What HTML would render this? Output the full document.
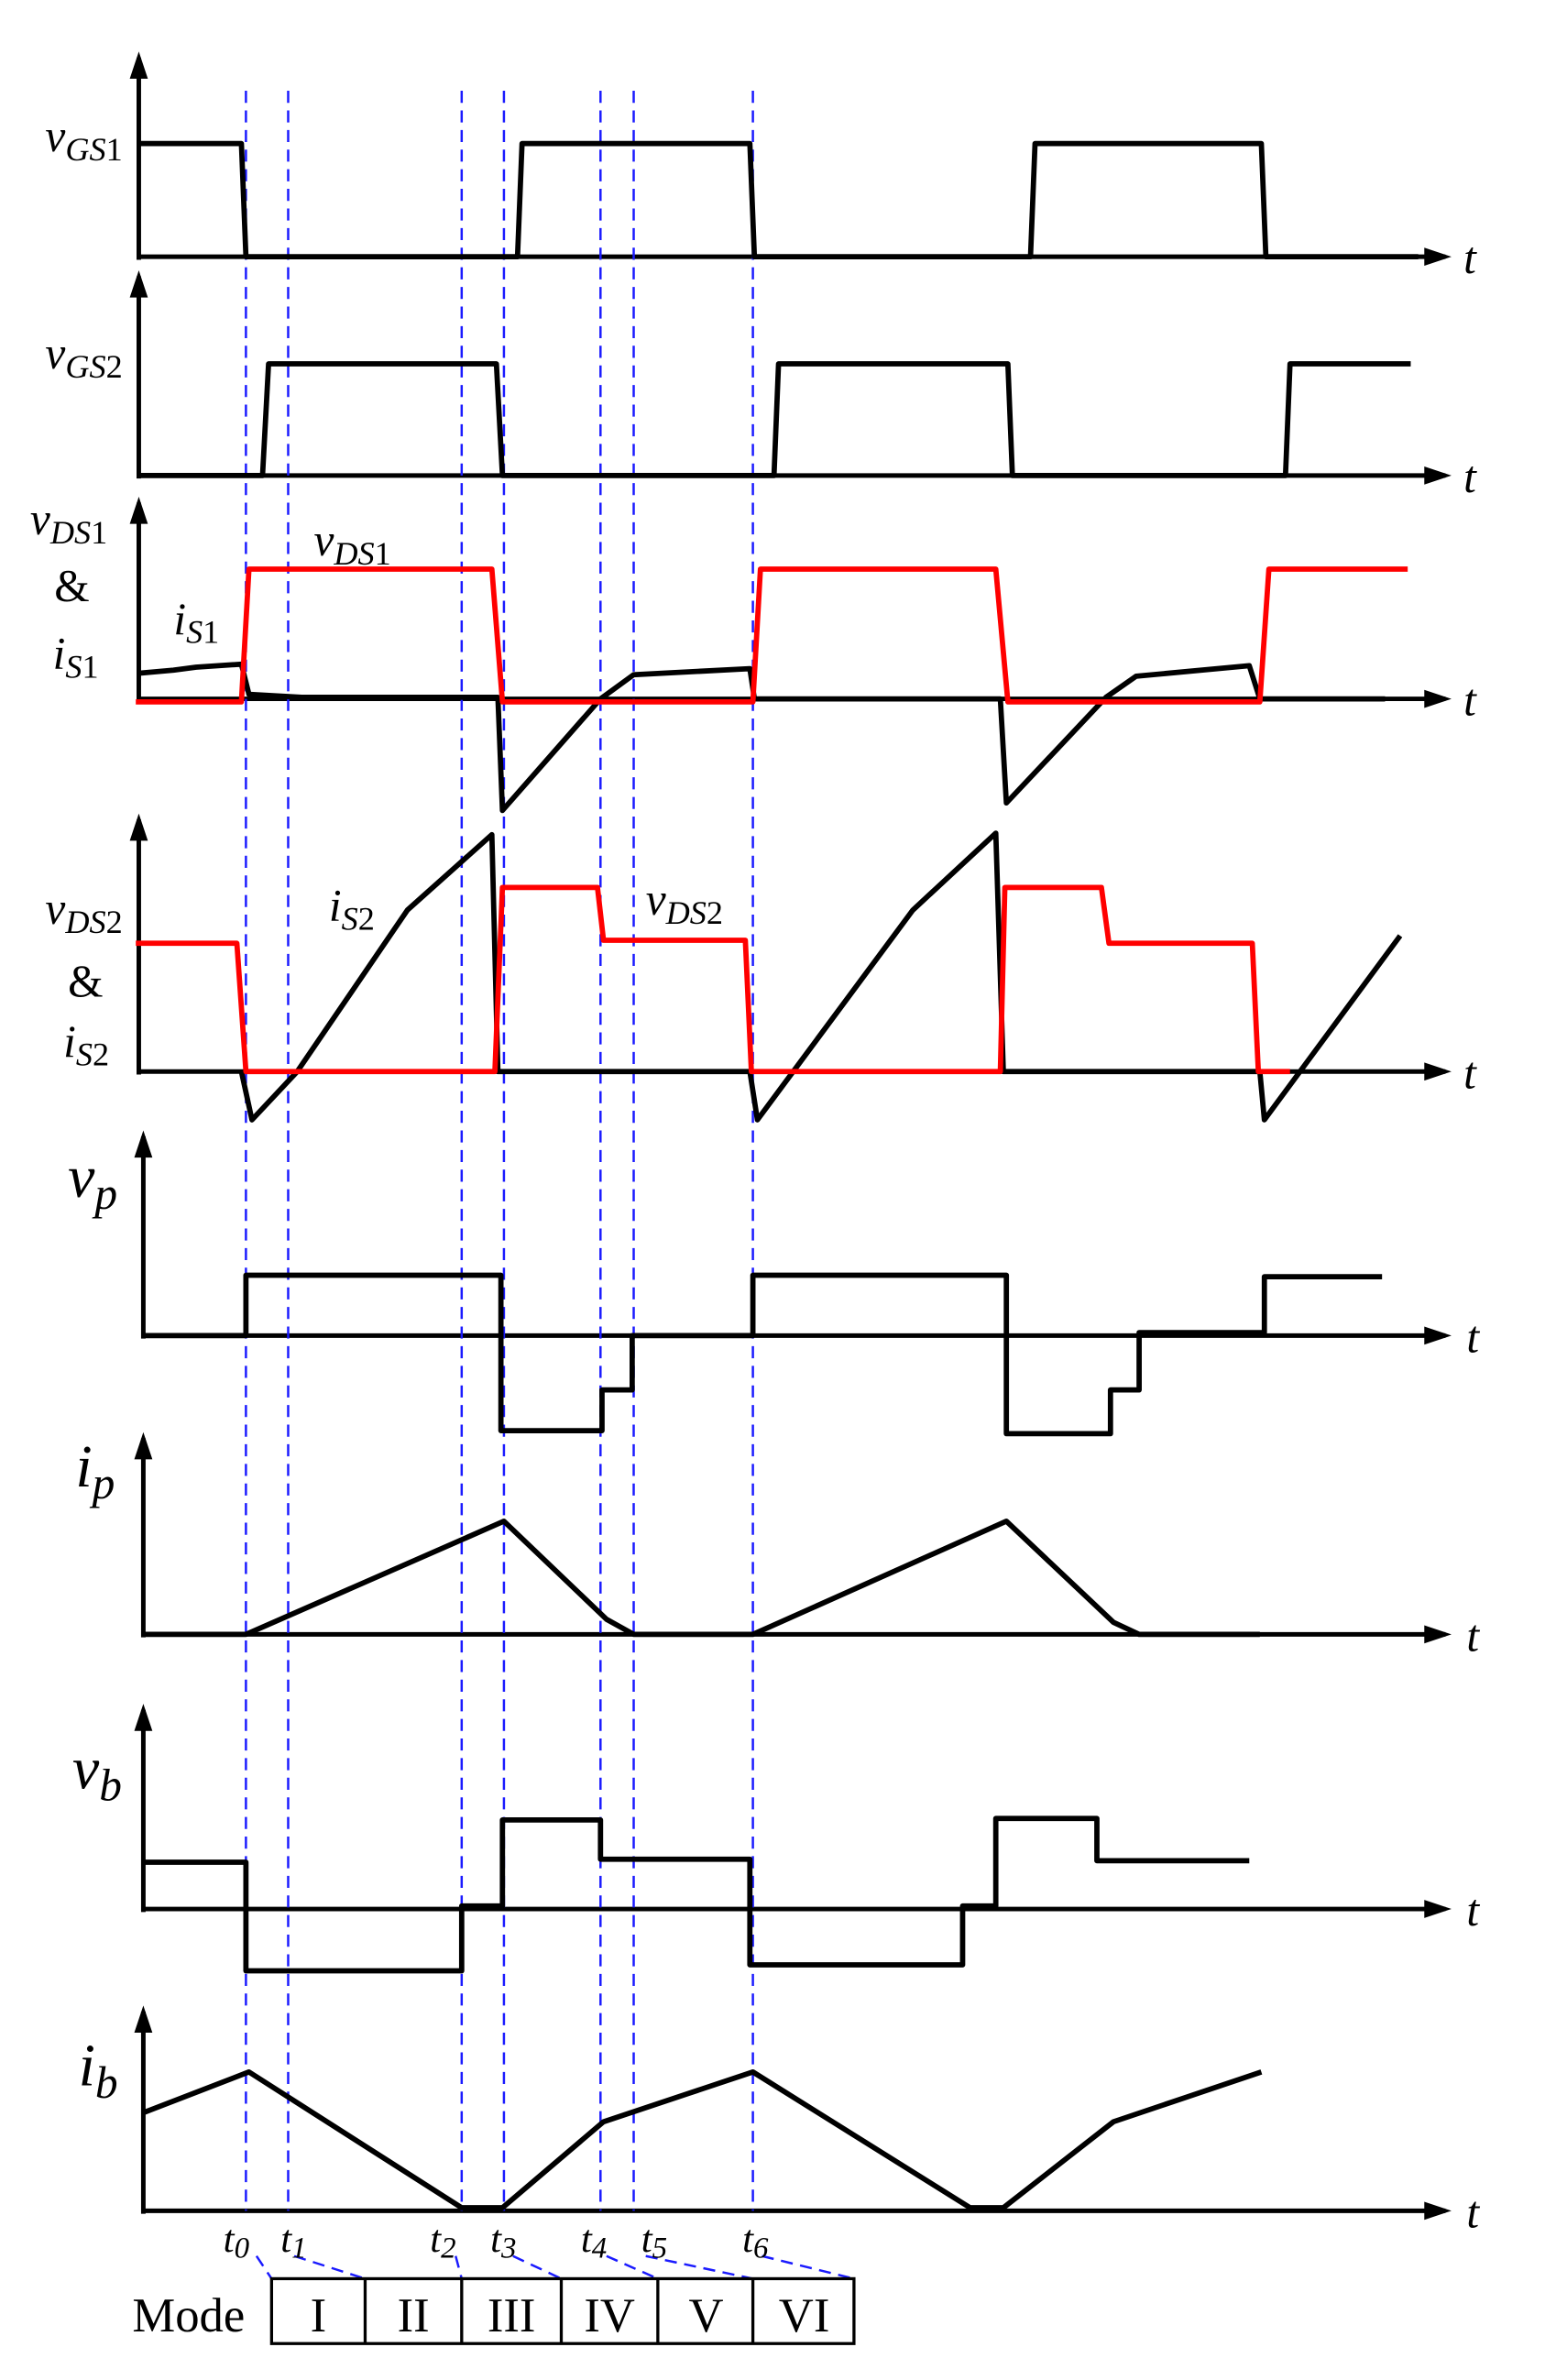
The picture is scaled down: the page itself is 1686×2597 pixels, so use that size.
<!DOCTYPE html>
<html><head><meta charset="utf-8"><style>html,body{margin:0;padding:0;background:#fff}svg{display:block}</style></head>
<body>
<svg width="1686" height="2597" viewBox="0 0 1024 1577" xmlns="http://www.w3.org/2000/svg" font-family="Liberation Serif, serif" font-style="italic">
<rect width="1024" height="1577" fill="#fff"/>
<defs><marker id="a" markerWidth="10" markerHeight="10" refX="8" refY="5" orient="auto" markerUnits="userSpaceOnUse"><path d="M0,0 L10,5 L0,10 Z" fill="#000"/></marker></defs>
<g stroke="#000" stroke-width="3" fill="none">
<!-- axes -->
<path d="M92,172 V38 M92,170 H958"/>
<path d="M92,317 V183 M92,315 H958"/>
<path d="M92,465 V333 M92,463 H958"/>
<path d="M92,712 V543 M92,710 H958"/>
<path d="M95,887 V753 M95,885 H958"/>
<path d="M95,1085 V953 M95,1083 H958"/>
<path d="M95,1267 V1133 M95,1265 H958"/>
<path d="M95,1467 V1333 M95,1465 H958"/>
</g>
<g fill="#000">
<path d="M86,52 L92,34 L98,52Z M86,197 L92,179 L98,197Z M86,347 L92,329 L98,347Z M86,557 L92,539 L98,557Z M89,767 L95,749 L101,767Z M89,967 L95,949 L101,967Z M89,1147 L95,1129 L101,1147Z M89,1347 L95,1329 L101,1347Z"/>
<path d="M944,164 L962,170 L944,176Z M944,309 L962,315 L944,321Z M944,457 L962,463 L944,469Z M944,704 L962,710 L944,716Z M944,879 L962,885 L944,891Z M944,1077 L962,1083 L944,1089Z M944,1259 L962,1265 L944,1271Z M944,1459 L962,1465 L944,1471Z"/>
</g>
<!-- dashed lines -->
<g stroke="#1a1aff" stroke-width="1.5" stroke-dasharray="8,5" fill="none">
<path d="M163,60 V1465 M191,60 V1465 M306,60 V1465 M334,60 V1465 M398,60 V1465 M420,60 V1465 M499,60 V1465"/>
<path d="M170,1495 L180,1510 M195,1495 L242,1510 M302,1495 L306,1510 M340,1495 L372,1510 M402,1495 L436,1510 M428,1495 L499,1510 M505,1495 L566,1510"/>
</g>
<g stroke="#000" stroke-width="3.5" fill="none" stroke-linejoin="round">
<path d="M92,95 H160 L163,170 H343 L346,95 H497 L500,170 H683 L686,95 H836 L839,170 H940"/>
<path d="M92,315 H174 L178,241 H329 L333,315 H513 L516,241 H668 L671,315 H852 L855,241 H935"/>
<path d="M92,446 L115,444 L130,442 L160,440 L165,460 L200,462 H330 L333,537 L398,463 L420,447 L497,443 L500,463 H663 L667,532 L733,462 L753,448 L828,441 L835,463 H918"/>
<path d="M160,710 L167,742 L197,710 L270,603 L326,553 L330,710 H497 L502,742 L605,603 L660,552 L665,710 H835 L838,742 L928,620"/>
<path d="M95,885 H163 V845 H332 V948 H399 V921 H419 V885 H499 V845 H667 V950 H736 V921 H755 V883 H838 V846 H916"/>
<path d="M95,1083 H163 L334,1008 L402,1073 L420,1083 H499 L667,1008 L738,1075 L755,1083 H835"/>
<path d="M95,1234 H163 V1306 H306 V1263 H333 V1206 H398 V1232 H497 V1302 H638 V1263 H660 V1205 H727 V1233 H828"/>
<path d="M95,1400 L165,1373 L306,1463 H333 L400,1406 L499,1373 L643,1463 H665 L738,1406 L836,1373"/>
</g>
<path d="M90,465 H160 L165,377 H326 L333,465 H499 L504,377 H660 L668,465 H835 L841,377 H933 M90,625 H157 L163,710 H328 L333,588 H396 L400,623 H494 L498,710 H663 L666,588 H730 L735,625 H830 L834,710 H855" stroke="#f00" stroke-width="3.5" fill="none" stroke-linejoin="round"/>
<!-- mode box -->
<g stroke="#000" stroke-width="2" fill="none"><rect x="180" y="1510" width="386" height="43"/><path d="M242,1510V1553M306,1510V1553M372,1510V1553M436,1510V1553M499,1510V1553"/></g>
<g font-style="normal" font-size="32" text-anchor="middle" fill="#000">
<text x="211" y="1545">I</text><text x="274" y="1545">II</text><text x="339" y="1545">III</text><text x="404" y="1545">IV</text><text x="468" y="1545">V</text><text x="533" y="1545">VI</text>
<text x="125" y="1545">Mode</text>
</g>
<!-- labels -->
<g fill="#000" font-size="30">
<text x="970" y="181">t</text><text x="970" y="326">t</text><text x="970" y="474">t</text><text x="970" y="721">t</text><text x="972" y="896">t</text><text x="972" y="1094">t</text><text x="972" y="1276">t</text><text x="972" y="1476">t</text>
<text x="30" y="100">v<tspan font-size="22" dy="6">GS</tspan><tspan font-style="normal" font-size="22">1</tspan></text>
<text x="30" y="244">v<tspan font-size="22" dy="6">GS</tspan><tspan font-style="normal" font-size="22">2</tspan></text>
<text x="20" y="354">v<tspan font-size="22" dy="6">DS</tspan><tspan font-style="normal" font-size="22">1</tspan></text>
<text x="36" y="398" font-style="normal">&amp;</text>
<text x="35" y="443">i<tspan font-size="22" dy="6">S</tspan><tspan font-style="normal" font-size="22">1</tspan></text>
<text x="208" y="368">v<tspan font-size="22" dy="6">DS</tspan><tspan font-style="normal" font-size="22">1</tspan></text>
<text x="115" y="420">i<tspan font-size="22" dy="6">S</tspan><tspan font-style="normal" font-size="22">1</tspan></text>
<text x="30" y="612">v<tspan font-size="22" dy="6">DS</tspan><tspan font-style="normal" font-size="22">2</tspan></text>
<text x="45" y="660" font-style="normal">&amp;</text>
<text x="42" y="700">i<tspan font-size="22" dy="6">S</tspan><tspan font-style="normal" font-size="22">2</tspan></text>
<text x="218" y="610">i<tspan font-size="22" dy="6">S</tspan><tspan font-style="normal" font-size="22">2</tspan></text>
<text x="428" y="606">v<tspan font-size="22" dy="6">DS</tspan><tspan font-style="normal" font-size="22">2</tspan></text>
<text x="45" y="793" font-size="40">v<tspan font-size="30" dy="8">p</tspan></text>
<text x="50" y="985" font-size="40">i<tspan font-size="30" dy="8">p</tspan></text>
<text x="48" y="1185" font-size="40">v<tspan font-size="30" dy="8">b</tspan></text>
<text x="52" y="1382" font-size="40">i<tspan font-size="30" dy="8">b</tspan></text>
<g font-size="26"><text x="148" y="1492">t<tspan font-size="20" dy="4">0</tspan></text><text x="186" y="1492">t<tspan font-size="20" dy="4">1</tspan></text><text x="285" y="1492">t<tspan font-size="20" dy="4">2</tspan></text><text x="325" y="1492">t<tspan font-size="20" dy="4">3</tspan></text><text x="385" y="1492">t<tspan font-size="20" dy="4">4</tspan></text><text x="425" y="1492">t<tspan font-size="20" dy="4">5</tspan></text><text x="492" y="1492">t<tspan font-size="20" dy="4">6</tspan></text></g>
</g>
</svg>
</body></html>
